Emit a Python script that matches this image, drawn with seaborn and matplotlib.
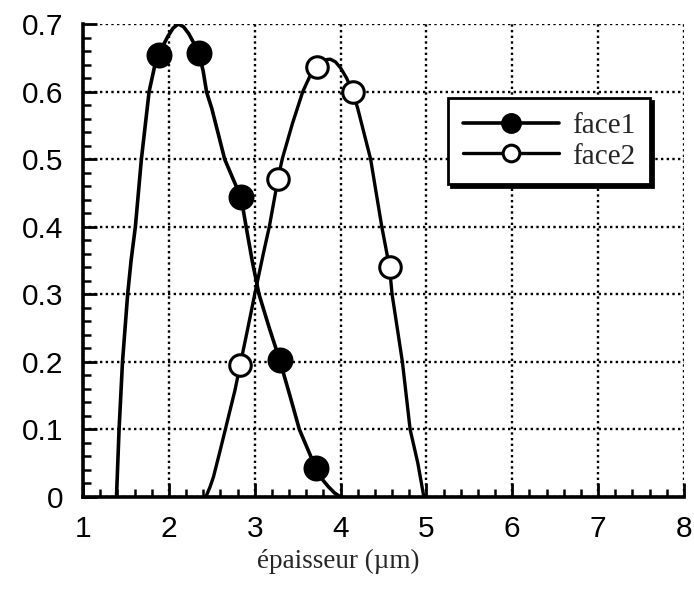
import matplotlib
matplotlib.use("Agg")
import matplotlib.pyplot as plt
from matplotlib.lines import Line2D
from matplotlib.ticker import MultipleLocator
import seaborn as sns
import pandas as pd

# fitted curves
face1_curve_x = [1.39, 1.42, 1.46, 1.52, 1.56, 1.61, 1.68, 1.77, 1.83, 1.88, 1.94, 1.99,
                 2.05, 2.11, 2.17, 2.23, 2.29, 2.35, 2.40, 2.44, 2.50, 2.55, 2.65, 2.75,
                 2.84, 2.90, 2.97, 3.05, 3.17, 3.29, 3.41, 3.52, 3.62, 3.71, 3.80, 3.86,
                 3.93, 4.00]
face1_curve_y = [0.0, 0.10, 0.20, 0.30, 0.35, 0.40, 0.50, 0.60, 0.635, 0.654, 0.670, 0.682,
                 0.694, 0.700, 0.696, 0.686, 0.672, 0.657, 0.630, 0.599, 0.575, 0.55, 0.50,
                 0.47, 0.444, 0.40, 0.35, 0.30, 0.25, 0.203, 0.15, 0.10, 0.07, 0.043, 0.024,
                 0.015, 0.006, 0.0]
face2_curve_x = [2.43, 2.48, 2.52, 2.59, 2.65, 2.77, 2.83, 2.92, 3.00, 3.10, 3.17, 3.27,
                 3.32, 3.44, 3.56, 3.64, 3.72, 3.77, 3.82, 3.88, 3.94, 4.00, 4.07, 4.14,
                 4.20, 4.25, 4.35, 4.48, 4.57, 4.60, 4.66, 4.72, 4.81, 4.90, 4.97]
face2_curve_y = [0.0, 0.015, 0.03, 0.065, 0.096, 0.158, 0.195, 0.25, 0.30, 0.36, 0.40, 0.47,
                 0.50, 0.553, 0.60, 0.622, 0.636, 0.643, 0.647, 0.648, 0.644, 0.635, 0.620,
                 0.60, 0.575, 0.55, 0.50, 0.40, 0.34, 0.30, 0.25, 0.20, 0.10, 0.05, 0.0]

# measured points
face1_x = [1.88, 2.35, 2.84, 3.29, 3.71]
face1_y = [0.654, 0.657, 0.444, 0.203, 0.043]
face2_x = [2.83, 3.27, 3.72, 4.14, 4.57]
face2_y = [0.195, 0.47, 0.636, 0.60, 0.34]

x_ticks = [1, 2, 3, 4, 5, 6, 7, 8]
y_ticks = [0, 0.1, 0.2, 0.3, 0.4, 0.5, 0.6, 0.7]
y_labels = ["0", "0.1", "0.2", "0.3", "0.4", "0.5", "0.6", "0.7"]

sns.set_style("white")
plt.rcParams["font.family"] = ["Liberation Sans", "DejaVu Sans"]

fig = plt.figure(figsize=(6.94, 5.97), dpi=100)
ax = fig.add_axes([0.1196, 0.1675, 0.8660, 0.7923])

c1 = pd.DataFrame({"x": face1_curve_x, "y": face1_curve_y})
c2 = pd.DataFrame({"x": face2_curve_x, "y": face2_curve_y})
sns.lineplot(data=c1, x="x", y="y", color="black", lw=2.6, sort=False, ax=ax)
sns.lineplot(data=c2, x="x", y="y", color="black", lw=2.4, sort=False, ax=ax)

sns.scatterplot(x=face1_x, y=face1_y, color="black", s=300, edgecolor="black", ax=ax, zorder=5)
sns.scatterplot(x=face2_x, y=face2_y, facecolor="white", s=240, edgecolor="black",
                linewidth=2.2, ax=ax, zorder=5)

ax.set_xlim(1, 8)
ax.set_ylim(0, 0.7)
ax.set_xticks(x_ticks)
ax.set_yticks(y_ticks)
ax.set_yticklabels(y_labels)
ax.xaxis.set_minor_locator(MultipleLocator(0.2))
ax.yaxis.set_minor_locator(MultipleLocator(0.02))
ax.tick_params(which="both", bottom=True, left=True, top=False, right=False)
ax.tick_params(which="major", direction="in", length=10, width=2, labelsize=21.5,
               colors="black")
ax.tick_params(axis="x", which="major", pad=13)
ax.tick_params(axis="y", which="major", pad=14)
ax.tick_params(which="minor", direction="in", length=6, width=1.8, colors="black")

ax.grid(True, which="major", color="black", linestyle=(0, (1, 1.4)), linewidth=1.7)
for side in ["top", "right"]:
    ax.spines[side].set_visible(False)
for side in ["left", "bottom"]:
    ax.spines[side].set_linewidth(2.6)
    ax.spines[side].set_color("black")

ax.set_xlabel("épaisseur (µm)", fontsize=19.5, family=["Liberation Serif", "DejaVu Serif"],
              labelpad=5)
ax.xaxis.set_label_coords(0.424, -0.109)
ax.set_ylabel("")

handles = [
    Line2D([], [], color="black", lw=2.6, marker="o", ms=14, mfc="black", mec="black"),
    Line2D([], [], color="black", lw=2.4, marker="o", ms=12, mfc="white", mec="black", mew=2.2),
]
leg = ax.legend(handles, ["face1", "face2"], loc="upper left", bbox_to_anchor=(0.608, 0.844),
                borderaxespad=0, frameon=True, fancybox=False,
                shadow={"color": "black", "alpha": 1}, handlelength=3.3,
                handletextpad=0.45, labelspacing=0.15, borderpad=0.5,
                prop={"family": ["Liberation Serif", "DejaVu Serif"], "size": 21})
leg.get_frame().set_edgecolor("black")
leg.get_frame().set_linewidth(2)
leg.get_frame().set_alpha(1)

fig.savefig("out.png", dpi=100)
